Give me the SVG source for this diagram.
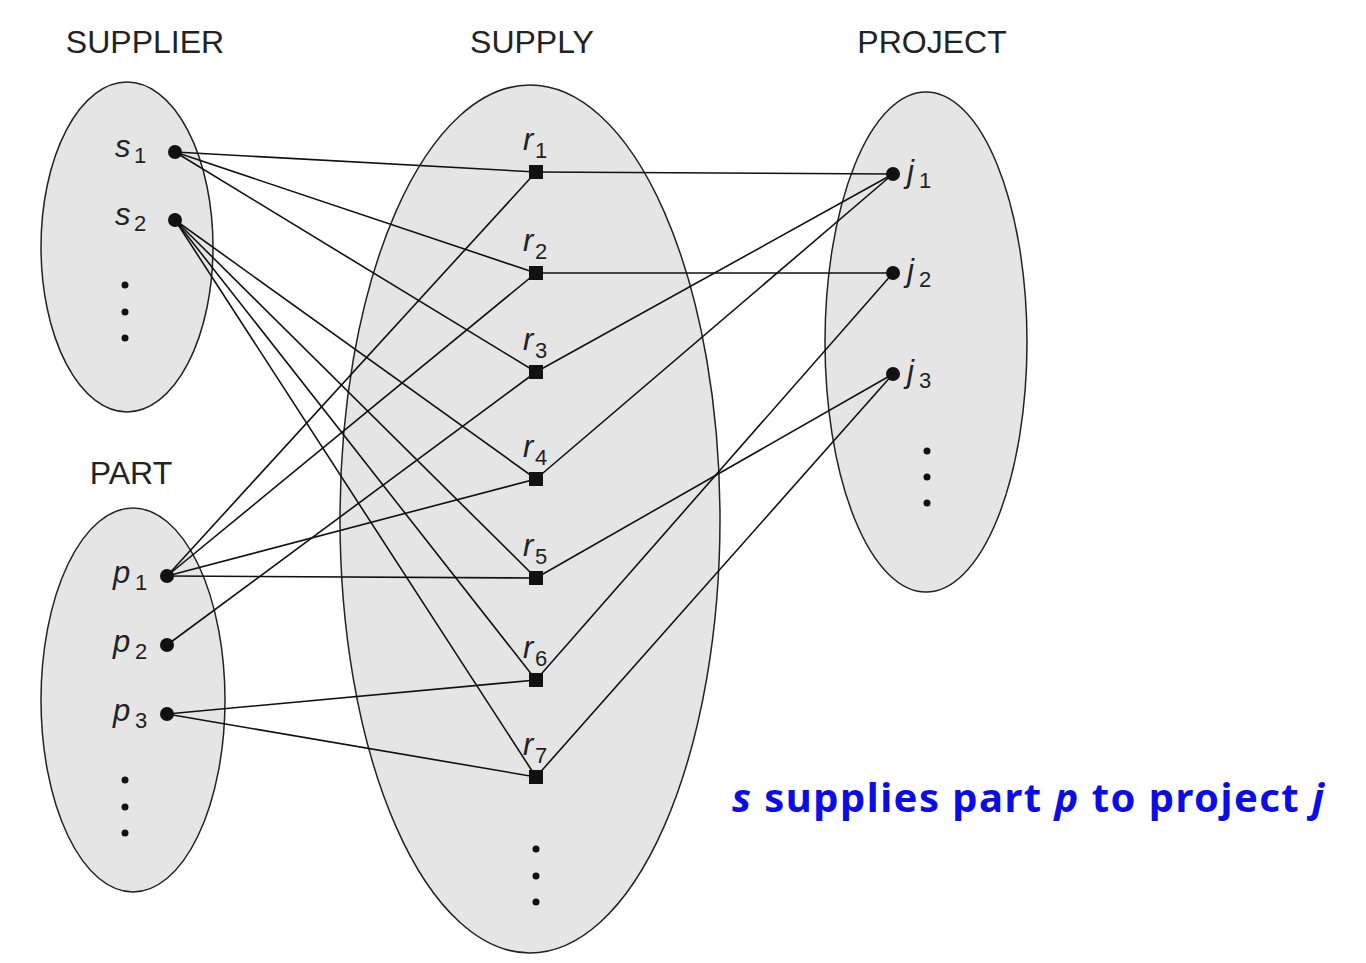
<svg xmlns="http://www.w3.org/2000/svg" width="1366" height="963" viewBox="0 0 1366 963">
<style>
.set{fill:#e5e5e5;stroke:#222;stroke-width:1.5}
.hdr{font-family:"Liberation Sans",Arial,sans-serif;font-size:32px;fill:#222;text-anchor:middle}
.lab{font-family:"Liberation Sans",Arial,sans-serif;font-size:31px;font-style:italic;fill:#222}
.sub{font-style:normal;font-size:22px}
.dot{fill:#111}
.sq{fill:#111}
.ed line{stroke:#111;stroke-width:1.6}
.note{font-family:"Noto Sans","Open Sans",sans-serif;font-size:40px;font-weight:bold;fill:#0c0ce6}
</style>
<rect width="1366" height="963" fill="#ffffff"/>
<g id="supplier-set">
<ellipse class="set" cx="127" cy="247" rx="86" ry="165"/>
<text class="hdr" x="145" y="53">SUPPLIER</text>
</g>
<g id="part-set">
<ellipse class="set" cx="133" cy="700" rx="92" ry="192"/>
<text class="hdr" x="131" y="484">PART</text>
</g>
<g id="supply-set">
<ellipse class="set" cx="530" cy="519" rx="190" ry="434"/>
<text class="hdr" x="532" y="53">SUPPLY</text>
</g>
<g id="project-set">
<ellipse class="set" cx="926" cy="342" rx="101" ry="250"/>
<text class="hdr" x="932" y="53">PROJECT</text>
</g>
<g id="connectors" class="ed">
<line x1="175" y1="152" x2="536" y2="172"/>
<line x1="175" y1="152" x2="536" y2="273"/>
<line x1="175" y1="152" x2="536" y2="372"/>
<line x1="175" y1="220" x2="536" y2="479"/>
<line x1="175" y1="220" x2="536" y2="578"/>
<line x1="175" y1="220" x2="536" y2="680"/>
<line x1="175" y1="220" x2="536" y2="777"/>
<line x1="167" y1="576" x2="536" y2="172"/>
<line x1="167" y1="576" x2="536" y2="273"/>
<line x1="167" y1="576" x2="536" y2="479"/>
<line x1="167" y1="576" x2="536" y2="578"/>
<line x1="167" y1="645" x2="536" y2="372"/>
<line x1="167" y1="714" x2="536" y2="680"/>
<line x1="167" y1="714" x2="536" y2="777"/>
<line x1="536" y1="172" x2="893" y2="174"/>
<line x1="536" y1="273" x2="893" y2="273"/>
<line x1="536" y1="372" x2="893" y2="174"/>
<line x1="536" y1="479" x2="893" y2="174"/>
<line x1="536" y1="578" x2="893" y2="374"/>
<line x1="536" y1="680" x2="893" y2="273"/>
<line x1="536" y1="777" x2="893" y2="374"/>
</g>
<g id="s1"><circle class="dot" cx="175" cy="152" r="7"/><text class="lab" x="115" y="157">s<tspan class="sub" x="134" y="163">1</tspan></text></g>
<g id="s2"><circle class="dot" cx="175" cy="220" r="7"/><text class="lab" x="115" y="225">s<tspan class="sub" x="134" y="231">2</tspan></text></g>
<g id="supplier-more"><circle class="dot" cx="125" cy="285" r="3.5"/><circle class="dot" cx="125" cy="312" r="3.5"/><circle class="dot" cx="125" cy="338" r="3.5"/></g>
<g id="p1"><circle class="dot" cx="167" cy="576" r="7"/><text class="lab" x="113" y="583">p<tspan class="sub" x="135" y="590">1</tspan></text></g>
<g id="p2"><circle class="dot" cx="167" cy="645" r="7"/><text class="lab" x="113" y="652">p<tspan class="sub" x="135" y="659">2</tspan></text></g>
<g id="p3"><circle class="dot" cx="167" cy="714" r="7"/><text class="lab" x="113" y="721">p<tspan class="sub" x="135" y="728">3</tspan></text></g>
<g id="part-more"><circle class="dot" cx="125" cy="780" r="3.5"/><circle class="dot" cx="125" cy="807" r="3.5"/><circle class="dot" cx="125" cy="833" r="3.5"/></g>
<g id="r1"><rect class="sq" x="529" y="165" width="14" height="14"/><text class="lab" x="523" y="150">r<tspan class="sub" x="535" y="158">1</tspan></text></g>
<g id="r2"><rect class="sq" x="529" y="266" width="14" height="14"/><text class="lab" x="523" y="251">r<tspan class="sub" x="535" y="259">2</tspan></text></g>
<g id="r3"><rect class="sq" x="529" y="365" width="14" height="14"/><text class="lab" x="523" y="350">r<tspan class="sub" x="535" y="358">3</tspan></text></g>
<g id="r4"><rect class="sq" x="529" y="472" width="14" height="14"/><text class="lab" x="523" y="457">r<tspan class="sub" x="535" y="465">4</tspan></text></g>
<g id="r5"><rect class="sq" x="529" y="571" width="14" height="14"/><text class="lab" x="523" y="556">r<tspan class="sub" x="535" y="564">5</tspan></text></g>
<g id="r6"><rect class="sq" x="529" y="673" width="14" height="14"/><text class="lab" x="523" y="658">r<tspan class="sub" x="535" y="666">6</tspan></text></g>
<g id="r7"><rect class="sq" x="529" y="770" width="14" height="14"/><text class="lab" x="523" y="755">r<tspan class="sub" x="535" y="763">7</tspan></text></g>
<g id="supply-more"><circle class="dot" cx="536" cy="849" r="3.5"/><circle class="dot" cx="536" cy="876" r="3.5"/><circle class="dot" cx="536" cy="902" r="3.5"/></g>
<g id="j1"><circle class="dot" cx="893" cy="174" r="7"/><text class="lab" x="907" y="182">j<tspan class="sub" x="919" y="188">1</tspan></text></g>
<g id="j2"><circle class="dot" cx="893" cy="273" r="7"/><text class="lab" x="907" y="281">j<tspan class="sub" x="919" y="287">2</tspan></text></g>
<g id="j3"><circle class="dot" cx="893" cy="374" r="7"/><text class="lab" x="907" y="382">j<tspan class="sub" x="919" y="388">3</tspan></text></g>
<g id="project-more"><circle class="dot" cx="927" cy="451" r="3.5"/><circle class="dot" cx="927" cy="477" r="3.5"/><circle class="dot" cx="927" cy="503" r="3.5"/></g>
<g id="caption">
<text class="note" x="732" y="812" textLength="592" lengthAdjust="spacing"><tspan font-style="italic">s</tspan> supplies part <tspan font-style="italic">p</tspan> to project <tspan font-style="italic">j</tspan></text>
</g>
</svg>
